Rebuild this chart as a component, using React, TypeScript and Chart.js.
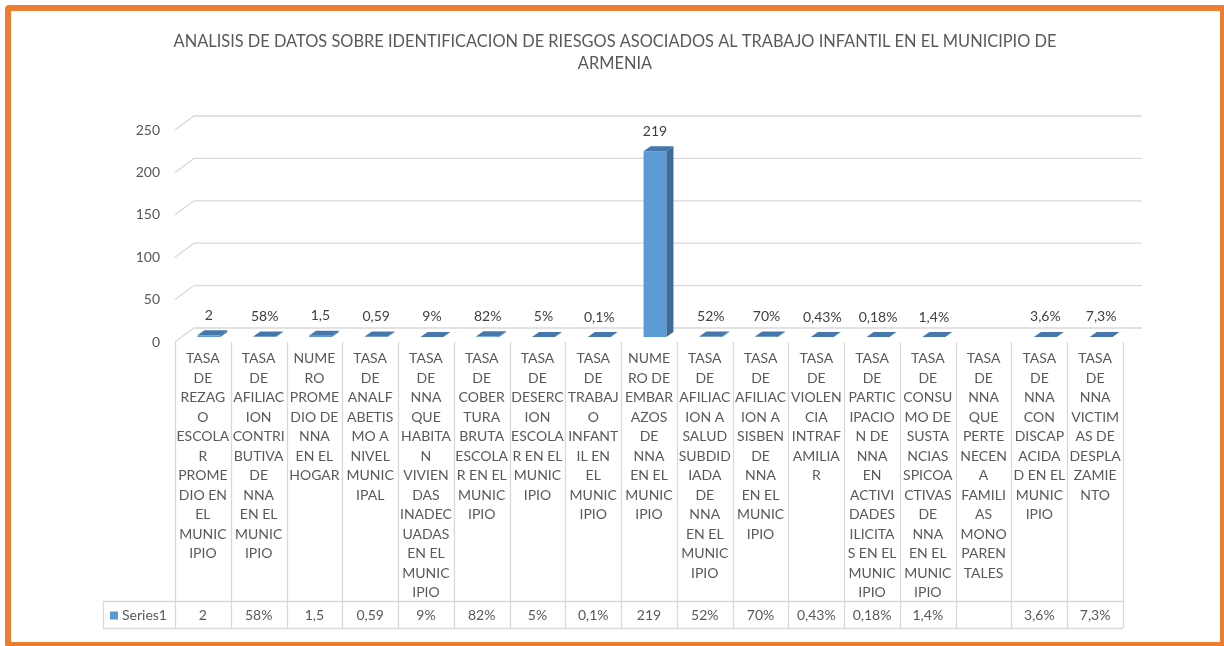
import React, { useEffect, useRef } from 'react';
import { Chart, registerables } from 'chart.js';

Chart.register(...registerables);

const TITLE_LINES = [
  'ANALISIS DE DATOS SOBRE IDENTIFICACION DE RIESGOS ASOCIADOS AL TRABAJO INFANTIL EN EL MUNICIPIO DE',
  'ARMENIA',
];
const SERIES_NAME = 'Series1';

const CATEGORIES: string[][] = [
  ['TASA', 'DE', 'REZAG', 'O', 'ESCOLA', 'R', 'PROME', 'DIO EN', 'EL', 'MUNIC', 'IPIO'],
  ['TASA', 'DE', 'AFILIAC', 'ION', 'CONTRI', 'BUTIVA', 'DE', 'NNA', 'EN EL', 'MUNIC', 'IPIO'],
  ['NUME', 'RO', 'PROME', 'DIO DE', 'NNA', 'EN EL', 'HOGAR'],
  ['TASA', 'DE', 'ANALF', 'ABETIS', 'MO A', 'NIVEL', 'MUNIC', 'IPAL'],
  ['TASA', 'DE', 'NNA', 'QUE', 'HABITA', 'N', 'VIVIEN', 'DAS', 'INADEC', 'UADAS', 'EN EL', 'MUNIC', 'IPIO'],
  ['TASA', 'DE', 'COBER', 'TURA', 'BRUTA', 'ESCOLA', 'R EN EL', 'MUNIC', 'IPIO'],
  ['TASA', 'DE', 'DESERC', 'ION', 'ESCOLA', 'R EN EL', 'MUNIC', 'IPIO'],
  ['TASA', 'DE', 'TRABAJ', 'O', 'INFANT', 'IL EN', 'EL', 'MUNIC', 'IPIO'],
  ['NUME', 'RO DE', 'EMBAR', 'AZOS', 'DE', 'NNA', 'EN EL', 'MUNIC', 'IPIO'],
  ['TASA', 'DE', 'AFILIAC', 'ION A', 'SALUD', 'SUBDID', 'IADA', 'DE', 'NNA', 'EN EL', 'MUNIC', 'IPIO'],
  ['TASA', 'DE', 'AFILIAC', 'ION A', 'SISBEN', 'DE', 'NNA', 'EN EL', 'MUNIC', 'IPIO'],
  ['TASA', 'DE', 'VIOLEN', 'CIA', 'INTRAF', 'AMILIA', 'R'],
  ['TASA', 'DE', 'PARTIC', 'IPACIO', 'N DE', 'NNA', 'EN', 'ACTIVI', 'DADES', 'ILICITA', 'S EN EL', 'MUNIC', 'IPIO'],
  ['TASA', 'DE', 'CONSU', 'MO DE', 'SUSTA', 'NCIAS', 'SPICOA', 'CTIVAS', 'DE', 'NNA', 'EN EL', 'MUNIC', 'IPIO'],
  ['TASA', 'DE', 'NNA', 'QUE', 'PERTE', 'NECEN', 'A', 'FAMILI', 'AS', 'MONO', 'PAREN', 'TALES'],
  ['TASA', 'DE', 'NNA', 'CON', 'DISCAP', 'ACIDA', 'D EN EL', 'MUNIC', 'IPIO'],
  ['TASA', 'DE', 'NNA', 'VICTIM', 'AS DE', 'DESPLA', 'ZAMIE', 'NTO'],
];

const VALUES: (number | null)[] = [
  2, 0.58, 1.5, 0.59, 0.09, 0.82, 0.05, 0.001, 219, 0.52, 0.7, 0.0043, 0.0018, 0.014, null, 0.036, 0.073,
];

const VALUE_LABELS: string[] = [
  '2', '58%', '1,5', '0,59', '9%', '82%', '5%', '0,1%', '219', '52%', '70%', '0,43%', '0,18%', '1,4%', '', '3,6%', '7,3%',
];

const Y_MIN = 0;
const Y_MAX = 250;
const Y_STEP = 50;

const FONT = 'Lato, "Noto Sans", sans-serif';
const TEXT = '#595959';
const LINE = '#D9D9D9';
const FRONT_COLOR = '#5B9BD5';
const TOP_COLOR = '#4677AC';
const SIDE_COLOR = '#3D6A96';

// 3D geometry offsets relative to the bar plane
const FRONT = { dx: -6, dy: 5 };
const BACK = { dx: 13, dy: -9 };
const DEPTH = { dx: 7, dy: -5 };

const threeD = {
  id: 'threeD',
  beforeDatasetsDraw(chart: any) {
    const { ctx, chartArea, scales } = chart;
    const y = scales.y;
    ctx.save();
    ctx.strokeStyle = LINE;
    ctx.lineWidth = 1.3;
    for (let v = Y_MIN; v <= Y_MAX; v += Y_STEP) {
      const py = y.getPixelForValue(v);
      ctx.beginPath();
      ctx.moveTo(chartArea.left + FRONT.dx, py + FRONT.dy);
      ctx.lineTo(chartArea.left + BACK.dx, py + BACK.dy);
      ctx.lineTo(chartArea.right + BACK.dx, py + BACK.dy);
      ctx.stroke();
    }
    ctx.restore();
  },
  afterDatasetsDraw(chart: any) {
    const { ctx } = chart;
    const meta = chart.getDatasetMeta(0);
    ctx.save();
    meta.data.forEach((el: any, i: number) => {
      if (VALUES[i] === null) return;
      const p = el.getProps(['x', 'y', 'base', 'width'], true);
      const l = p.x - p.width / 2;
      const r = p.x + p.width / 2;
      const t = Math.min(p.y, p.base);
      const b = Math.max(p.y, p.base);
      ctx.fillStyle = SIDE_COLOR;
      ctx.beginPath();
      ctx.moveTo(r, t);
      ctx.lineTo(r + DEPTH.dx, t + DEPTH.dy);
      ctx.lineTo(r + DEPTH.dx, b + DEPTH.dy);
      ctx.lineTo(r, b);
      ctx.closePath();
      ctx.fill();
      ctx.fillStyle = TOP_COLOR;
      ctx.beginPath();
      ctx.moveTo(l, t);
      ctx.lineTo(l + DEPTH.dx, t + DEPTH.dy);
      ctx.lineTo(r + DEPTH.dx, t + DEPTH.dy);
      ctx.lineTo(r, t);
      ctx.closePath();
      ctx.fill();
      ctx.fillStyle = '#404040';
      ctx.font = `14px ${FONT}`;
      ctx.textAlign = 'center';
      ctx.textBaseline = 'middle';
      ctx.fillText(VALUE_LABELS[i], p.x, t - 20);
    });
    ctx.restore();
  },
  afterDraw(chart: any) {
    const { ctx, chartArea, scales } = chart;
    const x = scales.x;
    const n = CATEGORIES.length;
    const colW = (chartArea.right - chartArea.left) / n;
    const left0 = chartArea.left + FRONT.dx;
    const tableTop = chartArea.bottom + FRONT.dy;
    const rowTop = 601;
    const rowBottom = 628;
    const seriesLeft = 103;

    ctx.save();
    ctx.fillStyle = TEXT;
    ctx.font = `16.4px ${FONT}`;
    ctx.textAlign = 'center';
    ctx.textBaseline = 'middle';
    ctx.fillText(TITLE_LINES[0], 615, 42);
    ctx.fillText(TITLE_LINES[1], 615, 64);

    ctx.strokeStyle = LINE;
    ctx.lineWidth = 1.3;
    for (let i = 0; i <= n; i++) {
      const lx = Math.round(left0 + i * colW) + 0.5;
      ctx.beginPath();
      ctx.moveTo(lx, tableTop);
      ctx.lineTo(lx, rowBottom);
      ctx.stroke();
    }
    const right = left0 + n * colW;
    ctx.beginPath();
    ctx.moveTo(seriesLeft + 0.5, rowTop);
    ctx.lineTo(seriesLeft + 0.5, rowBottom);
    ctx.moveTo(seriesLeft, rowTop + 0.5);
    ctx.lineTo(right, rowTop + 0.5);
    ctx.moveTo(seriesLeft, rowBottom + 0.5);
    ctx.lineTo(right, rowBottom + 0.5);
    ctx.stroke();

    const midY = (rowTop + rowBottom) / 2 + 1;
    ctx.fillStyle = FRONT_COLOR;
    ctx.fillRect(110, midY - 4, 8, 8);
    ctx.fillStyle = TEXT;
    ctx.font = `14px ${FONT}`;
    ctx.textAlign = 'left';
    ctx.fillText(SERIES_NAME, 122, midY);

    ctx.textAlign = 'center';
    for (let i = 0; i < n; i++) {
      const cx = x.getPixelForValue(i) + FRONT.dx;
      ctx.fillText(VALUE_LABELS[i], cx, midY);
    }
    ctx.restore();
  },
};

export default function App() {
  const ref = useRef<HTMLCanvasElement | null>(null);

  useEffect(() => {
    if (!ref.current) return;
    const chart = new Chart(ref.current, {
      type: 'bar',
      data: {
        labels: CATEGORIES,
        datasets: [
          {
            label: SERIES_NAME,
            data: VALUES,
            backgroundColor: FRONT_COLOR,
            borderWidth: 0,
            barPercentage: 0.41,
            categoryPercentage: 1,
          },
        ],
      },
      options: {
        responsive: false,
        animation: false,
        layout: { padding: { left: 0, right: 95, top: 125, bottom: 18 } },
        plugins: {
          legend: { display: false },
          tooltip: { enabled: false },
          title: { display: false },
        },
        scales: {
          x: {
            grid: { display: false },
            border: { display: false },
            afterFit: (s: any) => {
              s.height = 291;
            },
            ticks: {
              autoSkip: false,
              maxRotation: 0,
              minRotation: 0,
              padding: 4,
              labelOffset: FRONT.dx,
              color: TEXT,
              font: { family: FONT, size: 14, lineHeight: '19.5px' },
            },
          },
          y: {
            min: Y_MIN,
            max: Y_MAX,
            grid: { display: false },
            border: { display: false },
            afterFit: (s: any) => {
              s.width = 181;
            },
            ticks: {
              stepSize: Y_STEP,
              padding: 13,
              labelOffset: FRONT.dy,
              color: TEXT,
              font: { family: FONT, size: 14 },
            },
          },
        },
      },
      plugins: [threeD],
    });
    return () => chart.destroy();
  }, []);

  return (
    <div style={{ position: 'fixed', left: 0, top: 0, width: 1224, height: 646, overflow: 'hidden', background: '#fff' }}>
      <div
        style={{
          position: 'absolute',
          left: 5,
          top: 5,
          width: 1221,
          height: 643,
          boxSizing: 'border-box',
          border: '6px solid #ED7D31',
          borderRadius: 4,
        }}
      />
      <canvas ref={ref} width={1224} height={646} style={{ position: 'absolute', left: 0, top: 0, width: 1224, height: 646 }} />
    </div>
  );
}
